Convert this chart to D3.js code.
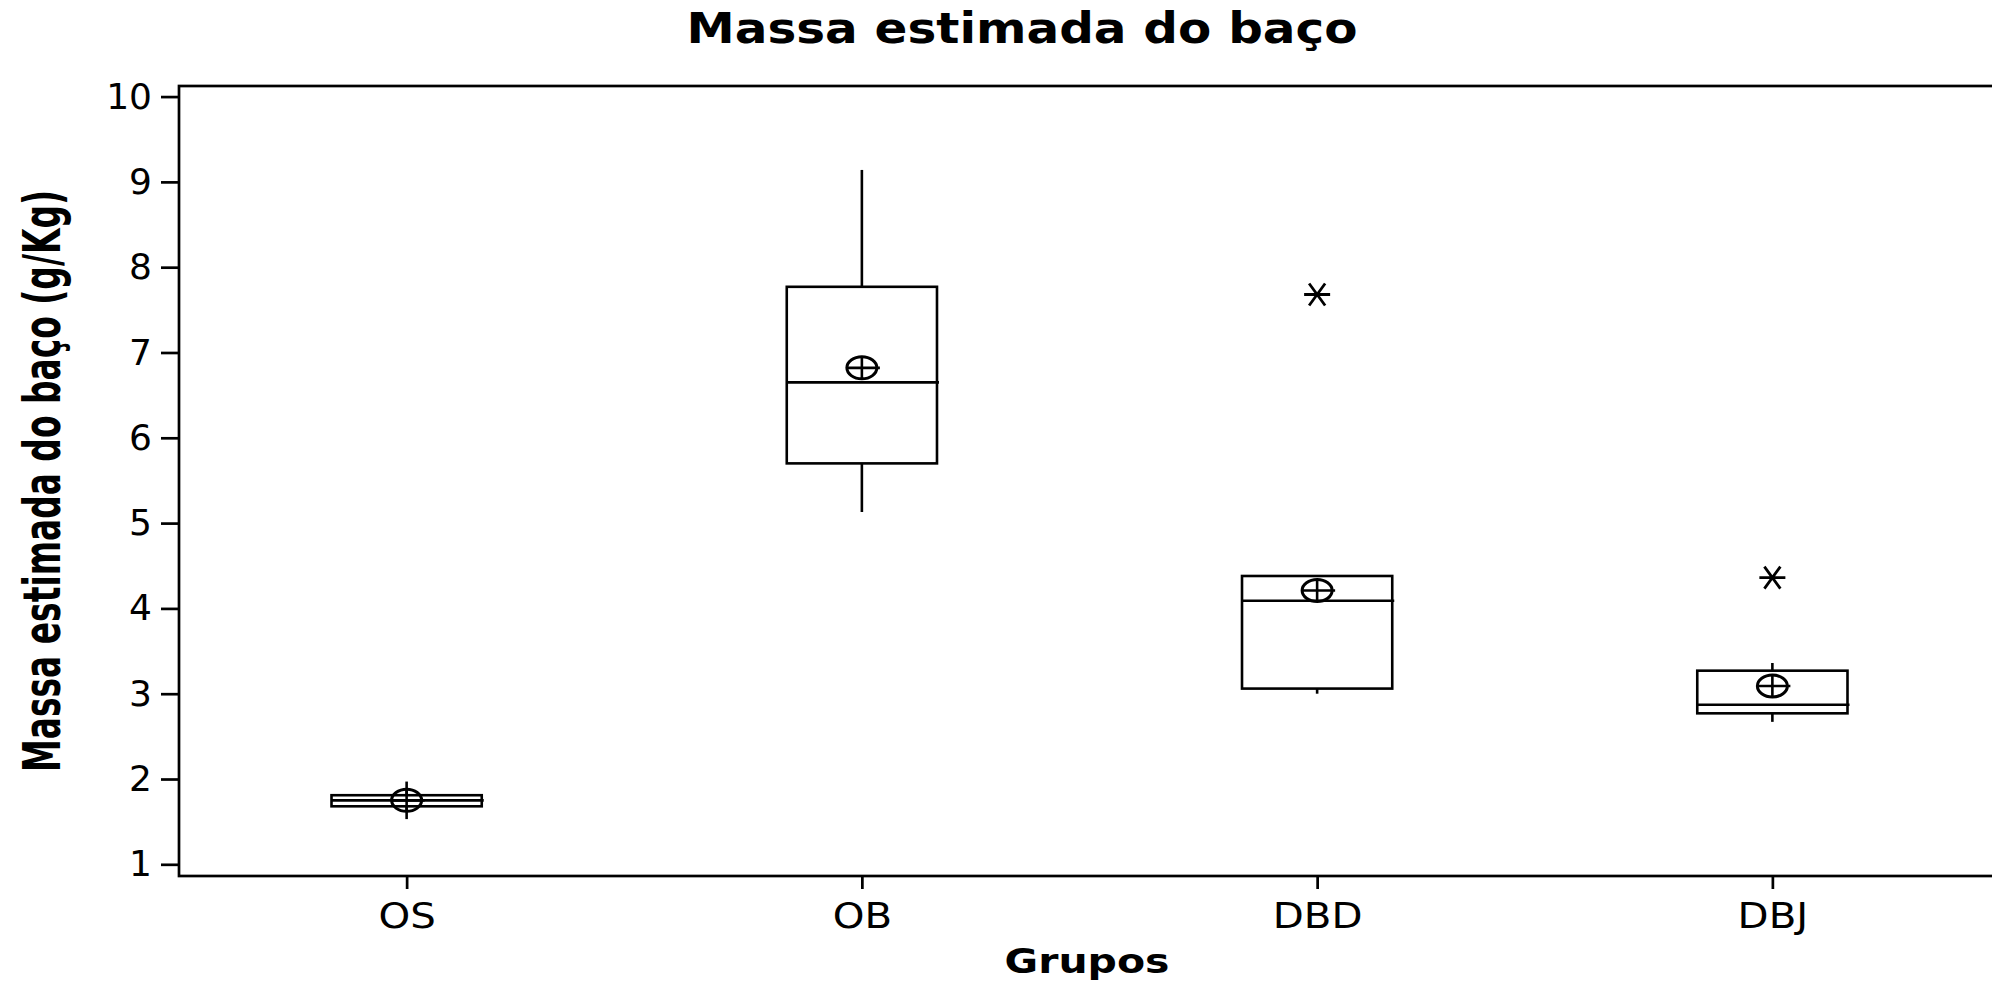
<!DOCTYPE html>
<html lang="pt">

<head>
    <meta charset="UTF-8">
    <title>Massa estimada do baço</title>
    <script src="https://d3js.org/d3.v7.min.js"></script>
    <style>
        body { margin: 0; background: #fff; }
        text { font-family: "DejaVu Sans", Verdana, sans-serif; fill: #000; }
    </style>
</head>

<body>
    <script>

        // values
        var groups = ["OS", "OB", "DBD", "DBJ"];
        var whiskerLow = [1.53, 5.13, 3.00, 2.67];
        var q1 = [1.68, 5.70, 3.06, 2.77];
        var median = [1.75, 6.65, 4.09, 2.87];
        var q3 = [1.81, 7.77, 4.38, 3.27];
        var whiskerHigh = [1.97, 9.14, 4.38, 3.36];
        var means = [1.75, 6.82, 4.21, 3.09];
        var outliers = [[], [], [7.68], [4.36]];
        var yTicks = [1, 2, 3, 4, 5, 6, 7, 8, 9, 10];

        var width = 1992, height = 983;
        var plotLeft = 179, plotRight = 2000, plotTop = 86, plotBottom = 876;

        var svg = d3.select("body").append("svg")
            .attr("width", width)
            .attr("height", height);

        var x = d3.scalePoint()
            .domain(groups)
            .range([plotLeft, plotRight])
            .padding(0.5);

        var y = d3.scaleLinear()
            .domain([0.863, 10.124])
            .range([plotBottom, plotTop]);

        var half = x.step() * 0.165;

        // frame (right side runs off the image)
        svg.append("rect")
            .attr("x", plotLeft)
            .attr("y", plotTop)
            .attr("width", plotRight - plotLeft)
            .attr("height", plotBottom - plotTop)
            .attr("fill", "none")
            .attr("stroke", "#000")
            .attr("stroke-width", 2.7);

        var yAxis = svg.append("g")
            .attr("transform", "translate(" + plotLeft + ",0)")
            .call(d3.axisLeft(y).tickValues(yTicks).tickSize(18).tickPadding(9));
        yAxis.select(".domain").remove();
        yAxis.selectAll("line").attr("stroke-width", 2.7);
        yAxis.selectAll("text")
            .attr("font-size", 36)
            .attr("font-family", "DejaVu Sans");

        var xAxis = svg.append("g")
            .attr("transform", "translate(0," + plotBottom + ")")
            .call(d3.axisBottom(x).tickSize(13).tickPadding(13));
        xAxis.select(".domain").remove();
        xAxis.selectAll("line").attr("stroke-width", 2.7);
        xAxis.selectAll("text")
            .attr("font-size", 36)
            .attr("font-family", "DejaVu Sans")
            .attr("transform", "scale(1.12,1)");

        var rows = groups.map(function (g, i) {
            return {
                g: g, lo: whiskerLow[i], q1: q1[i], med: median[i], q3: q3[i],
                hi: whiskerHigh[i], mean: means[i], out: outliers[i]
            };
        });

        var box = svg.selectAll(".box")
            .data(rows)
            .enter()
                .append("g")
                .attr("class", "box")
                .attr("stroke", "#000")
                .attr("stroke-width", 2.6)
                .attr("fill", "none");

        // whiskers
        box.append("line")
            .attr("x1", function (d) { return x(d.g); })
            .attr("x2", function (d) { return x(d.g); })
            .attr("y1", function (d) { return y(d.q3); })
            .attr("y2", function (d) { return y(d.hi); });
        box.append("line")
            .attr("x1", function (d) { return x(d.g); })
            .attr("x2", function (d) { return x(d.g); })
            .attr("y1", function (d) { return y(d.q1); })
            .attr("y2", function (d) { return y(d.lo); });

        box.append("rect")
            .attr("x", function (d) { return x(d.g) - half; })
            .attr("y", function (d) { return y(d.q3); })
            .attr("width", half * 2)
            .attr("height", function (d) { return y(d.q1) - y(d.q3); });

        box.append("line")
            .attr("x1", function (d) { return x(d.g) - half; })
            .attr("x2", function (d) { return x(d.g) + half + 2; })
            .attr("y1", function (d) { return y(d.med); })
            .attr("y2", function (d) { return y(d.med); });

        // mean symbol: circle with cross
        var rx = 15, ry = 11;
        box.append("ellipse")
            .attr("cx", function (d) { return x(d.g); })
            .attr("cy", function (d) { return y(d.mean); })
            .attr("rx", rx)
            .attr("ry", ry)
            .attr("stroke-width", 3);
        box.append("line")
            .attr("x1", function (d) { return x(d.g) - rx; })
            .attr("x2", function (d) { return x(d.g) + rx + 3; })
            .attr("y1", function (d) { return y(d.mean); })
            .attr("y2", function (d) { return y(d.mean); });
        box.append("line")
            .attr("x1", function (d) { return x(d.g); })
            .attr("x2", function (d) { return x(d.g); })
            .attr("y1", function (d) { return y(d.mean) - ry; })
            .attr("y2", function (d) { return y(d.mean) + ry; });

        // outliers as asterisks
        box.selectAll(".star")
            .data(function (d) { return d.out.map(function (v) { return { g: d.g, v: v }; }); })
            .enter()
                .append("path")
                .attr("class", "star")
                .attr("stroke-width", 2.8)
                .attr("d", function (d) {
                    var cx = x(d.g), cy = y(d.v);
                    return "M" + (cx - 13) + "," + cy + "H" + (cx + 13) +
                        "M" + (cx - 8) + "," + (cy - 11) + "L" + (cx + 8) + "," + (cy + 11) +
                        "M" + (cx - 8) + "," + (cy + 11) + "L" + (cx + 8) + "," + (cy - 11);
                });

        svg.append("text")
            .attr("x", 1022)
            .attr("y", 43)
            .attr("text-anchor", "middle")
            .attr("font-size", 42)
            .attr("font-weight", "bold")
            .attr("textLength", 671)
            .attr("lengthAdjust", "spacingAndGlyphs")
            .text("Massa estimada do baço");

        svg.append("text")
            .attr("x", 1087)
            .attr("y", 973)
            .attr("text-anchor", "middle")
            .attr("font-size", 33)
            .attr("font-weight", "bold")
            .attr("textLength", 165)
            .attr("lengthAdjust", "spacingAndGlyphs")
            .text("Grupos");

        svg.append("text")
            .attr("transform", "translate(60,481) rotate(-90)")
            .attr("text-anchor", "middle")
            .attr("font-size", 52)
            .attr("font-weight", "bold")
            .attr("textLength", 582)
            .attr("lengthAdjust", "spacingAndGlyphs")
            .text("Massa estimada do baço (g/Kg)");

    </script>

</body>

</html>
